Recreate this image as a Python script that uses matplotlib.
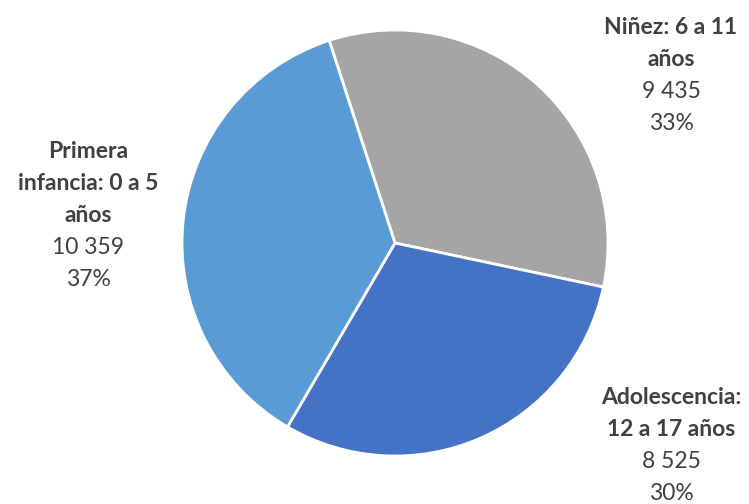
import matplotlib
matplotlib.use("Agg")
import matplotlib.pyplot as plt

categories = ["Niñez: 6 a 11\naños", "Adolescencia:\n12 a 17 años", "Primera\ninfancia: 0 a 5\naños"]
values = [9435, 8525, 10359]
value_labels = ["9 435", "8 525", "10 359"]
colors = ["#A5A5A5", "#4472C4", "#5B9BD5"]

W, H = 749, 504
fig = plt.figure(figsize=(W / 100, H / 100), dpi=100)
ax = fig.add_axes([0, 0, 1, 1])

ax.pie(values, colors=colors, startangle=108, counterclock=False,
       center=(395, H - 243), radius=213, frame=True,
       wedgeprops=dict(edgecolor="white", linewidth=2))
ax.set_xlim(0, W)
ax.set_ylim(0, H)
ax.set_aspect("equal")
ax.axis("off")

total = sum(values)
# label blocks: (x center, top y in pixels from top)
label_pos = [(671, 12), (671, 382), (88, 135)]
txt_color = "#404040"
step = 32
for cat, val, vl, (x, ytop) in zip(categories, values, value_labels, label_pos):
    y = ytop
    for ln in cat.split("\n"):
        ax.text(x, H - y - step / 2, ln, ha="center", va="center",
                fontsize=16.5, fontweight="bold", color=txt_color, family="Lato")
        y += step
    pct = f"{round(val / total * 100)}%"
    for ln in (vl, pct):
        ax.text(x, H - y - step / 2, ln, ha="center", va="center",
                fontsize=16.5, color=txt_color, family="Lato")
        y += step

fig.savefig("out.png", dpi=100)
